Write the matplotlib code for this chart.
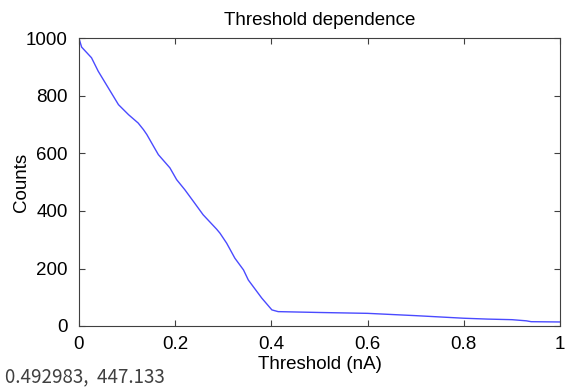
import numpy as np
import matplotlib
matplotlib.use("Agg")
import matplotlib.pyplot as plt

plt.rcParams['font.family'] = ['Liberation Sans', 'DejaVu Sans']

# values
threshold = [0.0, 0.0055, 0.026, 0.040, 0.061, 0.082, 0.103, 0.123, 0.134, 0.141,
             0.155, 0.165, 0.189, 0.203, 0.220, 0.238, 0.258, 0.286, 0.293, 0.307,
             0.324, 0.342, 0.352, 0.380, 0.401, 0.414, 0.50, 0.60, 0.70, 0.80,
             0.85, 0.90, 0.93, 0.94, 1.0]
counts = [1000, 970, 933, 886, 828, 770, 735, 706, 683, 666,
          625, 596, 550, 509, 474, 433, 387, 337, 323, 288,
          236, 195, 160, 97, 56, 50, 47, 44, 36, 27,
          24, 22, 18, 15, 14]
xticks = [0, 0.2, 0.4, 0.6, 0.8, 1]
xtick_labels = ["0", "0.2", "0.4", "0.6", "0.8", "1"]
yticks = [0, 200, 400, 600, 800, 1000]

fig = plt.figure(figsize=(5.66, 3.89), dpi=100)
ax = fig.add_axes([79/566, 1-326/389, 481/566, 287.5/389])
ax.plot(threshold, counts, color="#4a4aff", lw=1.0)
ax.set_xlim(0, 1)
ax.set_ylim(0, 1000)
ax.set_xticks(xticks)
ax.set_xticklabels(xtick_labels)
ax.set_yticks(yticks)
ax.tick_params(direction="in", top=True, right=True, length=4, labelsize=13.5,
               color="#404040")
ax.tick_params(axis="x", pad=7)
ax.tick_params(axis="y", pad=8)
for s in ax.spines.values():
    s.set_color("#404040")
ax.set_title("Threshold dependence", fontsize=13.5, pad=9.5)
ax.set_xlabel("Threshold (nA)", fontsize=13.5, labelpad=2.6)
ax.set_ylabel("Counts", fontsize=13.5)
ax.yaxis.set_label_coords(-0.101, 0.5)

fig.text(5/566, 1-377/389, "0.492983,  447.133", fontsize=13.5, color="#404040",
         family=["Noto Sans CJK KR", "DejaVu Sans"], weight="light",
         va="center", ha="left")

fig.savefig("out.png", dpi=100)
